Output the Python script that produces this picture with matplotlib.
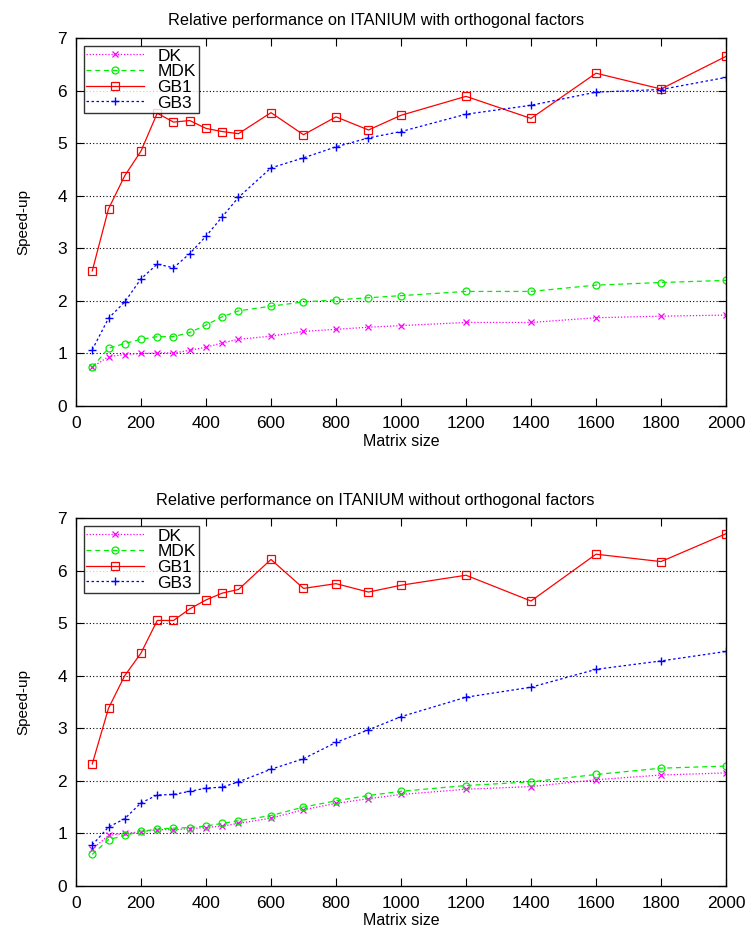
import numpy as np
import matplotlib
matplotlib.use("Agg")
import matplotlib.pyplot as plt

plt.rcParams['font.family'] = ['Liberation Sans', 'DejaVu Sans']

sizes = [50, 100, 150, 200, 250, 300, 350, 400, 450, 500,
         600, 700, 800, 900, 1000, 1200, 1400, 1600, 1800, 2000]

# with orthogonal factors
dk_with = [0.74, 0.94, 0.98, 1.00, 1.01, 1.01, 1.06, 1.12, 1.20, 1.27,
           1.33, 1.42, 1.46, 1.50, 1.53, 1.59, 1.59, 1.68, 1.71, 1.73]
mdk_with = [0.74, 1.10, 1.19, 1.27, 1.32, 1.32, 1.40, 1.54, 1.70, 1.81,
            1.90, 1.98, 2.02, 2.06, 2.10, 2.18, 2.18, 2.30, 2.35, 2.39]
gb1_with = [2.57, 3.75, 4.38, 4.85, 5.57, 5.40, 5.43, 5.28, 5.22, 5.18,
            5.58, 5.16, 5.50, 5.25, 5.53, 5.89, 5.47, 6.33, 6.03, 6.65]
gb3_with = [1.07, 1.67, 1.98, 2.42, 2.70, 2.63, 2.90, 3.23, 3.60, 3.97,
            4.53, 4.72, 4.93, 5.10, 5.22, 5.55, 5.72, 5.97, 6.02, 6.25]

# without orthogonal factors
dk_without = [0.70, 0.96, 1.00, 1.03, 1.07, 1.07, 1.09, 1.11, 1.14, 1.19,
              1.29, 1.45, 1.57, 1.66, 1.74, 1.84, 1.89, 2.02, 2.11, 2.15]
mdk_without = [0.60, 0.88, 0.96, 1.04, 1.08, 1.10, 1.11, 1.14, 1.19, 1.24,
               1.34, 1.50, 1.62, 1.72, 1.80, 1.91, 1.98, 2.12, 2.24, 2.28]
gb1_without = [2.32, 3.38, 4.00, 4.43, 5.05, 5.05, 5.27, 5.44, 5.57, 5.64,
               6.21, 5.66, 5.75, 5.59, 5.72, 5.91, 5.42, 6.31, 6.17, 6.70]
gb3_without = [0.78, 1.12, 1.28, 1.58, 1.73, 1.74, 1.80, 1.86, 1.88, 1.98,
               2.22, 2.42, 2.73, 2.97, 3.22, 3.59, 3.78, 4.12, 4.28, 4.46]

panels = [
    ("Relative performance on ITANIUM with orthogonal factors",
     dk_with, mdk_with, gb1_with, gb3_with),
    ("Relative performance on ITANIUM without orthogonal factors",
     dk_without, mdk_without, gb1_without, gb3_without),
]

fig = plt.figure(figsize=(7.51, 9.40), dpi=100)
axes = [fig.add_axes([0.1012, 0.568, 0.8655, 0.3916]),
        fig.add_axes([0.1012, 0.0575, 0.8655, 0.3915])]

for ax, (title, dk, mdk, gb1, gb3) in zip(axes, panels):
    ax.plot(sizes, dk, color='#ff00ff', linestyle=(0, (1, 1.5)), linewidth=0.9,
            marker='x', markersize=4.5, markeredgewidth=0.9, label='DK')
    ax.plot(sizes, mdk, color='#00ee00', linestyle=(0, (4, 3)), linewidth=0.9,
            marker='o', markersize=5, markerfacecolor='none', markeredgewidth=0.9, label='MDK')
    ax.plot(sizes, gb1, color='#ff0000', linestyle='-', linewidth=0.9,
            marker='s', markersize=5.5, markerfacecolor='none', markeredgewidth=0.9, label='GB1')
    ax.plot(sizes, gb3, color='#0000ff', linestyle=(0, (2, 2)), linewidth=0.9,
            marker='+', markersize=6, markeredgewidth=1.0, label='GB3')

    ax.set_xlim(0, 2000)
    ax.set_ylim(0, 7)
    ax.set_xticks(np.arange(0, 2001, 200))
    ax.set_yticks(np.arange(0, 8, 1))
    ax.tick_params(direction='in', top=True, right=True, length=6,
                   labelsize=12.5, width=0.8)
    ax.tick_params(axis='x', pad=7)
    ax.tick_params(axis='y', pad=6.5)
    for y in range(1, 7):
        ax.axhline(y, color='black', linestyle=(0, (1, 2)), linewidth=0.8, zorder=0)
    for s in ax.spines.values():
        s.set_linewidth(1.0)

    ax.set_title(title, fontsize=11.7, pad=9, x=0.461)
    ax.set_xlabel('Matrix size', fontsize=11.5, labelpad=2)
    ax.set_ylabel('Speed-up', fontsize=11, labelpad=19)
    leg = ax.legend(loc='upper left', fontsize=12.5, handlelength=3.3,
                    borderaxespad=0.45, frameon=True, fancybox=False,
                    labelspacing=0.03, borderpad=0.15, handletextpad=0.8)
    leg.get_frame().set_edgecolor('black')
    leg.get_frame().set_linewidth(1.0)

fig.savefig('out.png', dpi=100)
